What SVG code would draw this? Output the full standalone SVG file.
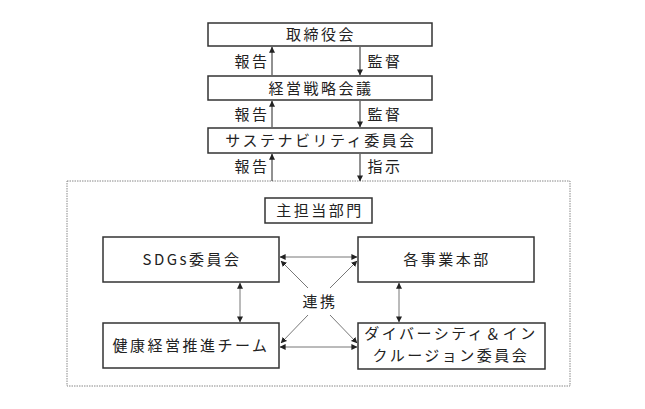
<svg xmlns="http://www.w3.org/2000/svg" width="645" height="409" viewBox="0 0 645 409">
<style>
.box{fill:#fff;stroke:#333;stroke-width:1.5}
.t{font-family:"Noto Sans CJK JP","Noto Sans",sans-serif;font-size:15px;fill:#222;text-anchor:middle;letter-spacing:2.5px}
.c{stroke:#222;stroke-width:1;fill:none}
.g{stroke:#777;stroke-width:1;fill:none}
</style>
<defs>
<marker id="ah" viewBox="0 0 8 8" refX="7.5" refY="4" markerWidth="6" markerHeight="6" markerUnits="userSpaceOnUse" orient="auto-start-reverse"><path d="M0,0 L8,4 L0,8 z" fill="#222"/></marker>
</defs>
<rect x="67" y="181" width="503" height="205" fill="none" stroke="#888" stroke-width="1" stroke-dasharray="1.5,1"/>
<g id="connectors">
<line class="c" x1="272" y1="75" x2="272" y2="47" marker-end="url(#ah)"/>
<line class="c" x1="360" y1="47" x2="360" y2="75" marker-end="url(#ah)"/>
<line class="c" x1="272" y1="127" x2="272" y2="101" marker-end="url(#ah)"/>
<line class="c" x1="360" y1="101" x2="360" y2="127" marker-end="url(#ah)"/>
<line class="c" x1="272" y1="181" x2="272" y2="154" marker-end="url(#ah)"/>
<line class="c" x1="360" y1="154" x2="360" y2="181" marker-end="url(#ah)"/>
<line class="g" x1="280" y1="257" x2="357" y2="257" marker-start="url(#ah)" marker-end="url(#ah)"/>
<line class="g" x1="280" y1="347" x2="357" y2="347" marker-start="url(#ah)" marker-end="url(#ah)"/>
<line class="g" x1="240" y1="283" x2="240" y2="322" marker-start="url(#ah)" marker-end="url(#ah)"/>
<line class="g" x1="399" y1="283" x2="399" y2="322" marker-start="url(#ah)" marker-end="url(#ah)"/>
<line class="g" x1="308" y1="288" x2="281" y2="261" marker-end="url(#ah)"/>
<line class="g" x1="330" y1="288" x2="357" y2="261" marker-end="url(#ah)"/>
<line class="g" x1="308" y1="315" x2="281" y2="343" marker-end="url(#ah)"/>
<line class="g" x1="330" y1="315" x2="357" y2="343" marker-end="url(#ah)"/>
<text class="t" x="252" y="67">報告</text>
<text class="t" x="385" y="67">監督</text>
<text class="t" x="252" y="120">報告</text>
<text class="t" x="385" y="120">監督</text>
<text class="t" x="252" y="172">報告</text>
<text class="t" x="385" y="172">指示</text>
<text class="t" x="320" y="307">連携</text>
</g>
<g id="n1"><rect class="box" x="208" y="23" width="224" height="23"/><text class="t" x="321" y="40">取締役会</text></g>
<g id="n2"><rect class="box" x="208" y="76" width="224" height="24"/><text class="t" x="321" y="94">経営戦略会議</text></g>
<g id="n3"><rect class="box" x="208" y="128" width="224" height="25"/><text class="t" x="321" y="146">サステナビリティ委員会</text></g>
<g id="n4"><rect class="box" x="265" y="198" width="107" height="25"/><text class="t" x="320" y="216">主担当部門</text></g>
<g id="n5"><rect class="box" x="103" y="237" width="176" height="45"/><text class="t" x="192" y="265">SDGs委員会</text></g>
<g id="n6"><rect class="box" x="358" y="237" width="176" height="45"/><text class="t" x="447" y="265">各事業本部</text></g>
<g id="n7"><rect class="box" x="103" y="323" width="176" height="45"/><text class="t" x="191" y="351">健康経営推進チーム</text></g>
<g id="n8"><rect class="box" x="358" y="323" width="187" height="46"/><text class="t" x="451" y="339">ダイバーシティ＆イン</text><text class="t" x="451" y="361">クルージョン委員会</text></g>
</svg>
